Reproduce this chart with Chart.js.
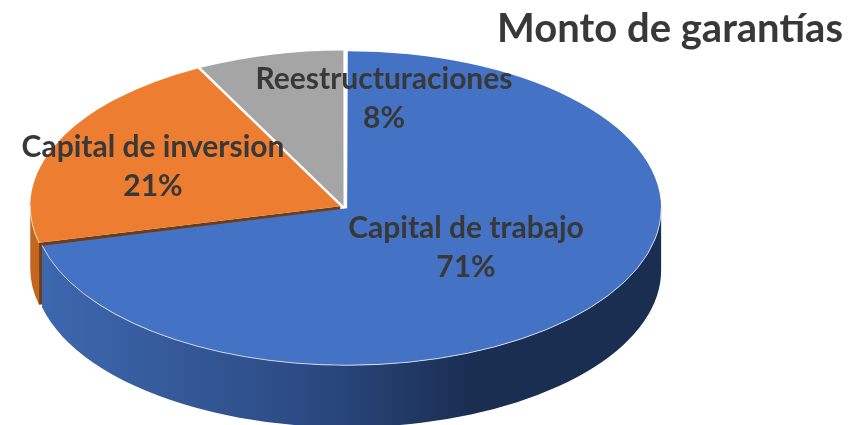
<!DOCTYPE html>
<html><head><meta charset="utf-8">
<style>html,body{margin:0;padding:0;background:#fff}#c{display:block}</style>
<script src="https://cdn.jsdelivr.net/npm/chart.js@4"></script>
</head><body><canvas id="c" width="851" height="425"></canvas>
<script>
const categories = ["Capital de trabajo", "Capital de inversion", "Reestructuraciones"];
const values = [71.2, 21.2, 7.6];
const percentLabels = ["71%", "21%", "8%"];
const colors = ["#4472C4", "#ED7D31", "#A5A5A5"];
const titleText = "Monto de garantías";

// Projection of the flat pie onto the tilted ellipse
const CX = 344, CY = 207, SX = 2, DEPTH = 62;
const labelAnchors = [[466, 228], [153, 147], [384, 79]];
const TXT = "#383838", FONT = "Lato, Carlito, 'Open Sans', sans-serif";

// same displacement and radius growth that the arc element applies for its offset
function geom(arc) {
  const o = (arc.options.offset || 0) / 4;
  const fix = 1 - Math.sin(Math.min(Math.PI, arc.circumference));
  const m = (arc.startAngle + arc.endAngle) / 2;
  return { x: arc.x + Math.cos(m) * o, y: arc.y + Math.sin(m) * o, r: arc.outerRadius + o * fix };
}
function wallPath(ctx, x, y, r, a0, a1) {
  ctx.beginPath();
  ctx.arc(x, y, r, a0, a1);
  ctx.arc(x, y + DEPTH, r, a1, a0, true);
  ctx.closePath();
}
const pie3d = {
  id: "pie3d",
  beforeDatasetsDraw(chart) {
    const ctx = chart.ctx, arcs = chart.getDatasetMeta(0).data;
    const ax = arcs[0].x, ay = arcs[0].y;
    ctx.save();
    ctx.translate(CX, CY); ctx.scale(SX, 1); ctx.translate(-ax, -ay);
    // inversion: outer wall + cut face
    const o = arcs[1], og = geom(o);
    ctx.fillStyle = "#C5661F";
    wallPath(ctx, og.x, og.y, og.r, o.startAngle, Math.PI);
    ctx.fill();
    const ex = og.x + Math.cos(o.startAngle) * og.r, ey = og.y + Math.sin(o.startAngle) * og.r;
    ctx.fillStyle = "#6B3D18";
    ctx.beginPath();
    ctx.moveTo(og.x, og.y); ctx.lineTo(ex, ey); ctx.lineTo(ex, ey + DEPTH); ctx.lineTo(og.x, og.y + DEPTH);
    ctx.closePath(); ctx.fill();
    // trabajo: front wall with horizontal gradient
    const b = arcs[0], bg = geom(b);
    const g = ctx.createLinearGradient(bg.x - bg.r, 0, bg.x + bg.r, 0);
    g.addColorStop(0, "#3E69B0");
    g.addColorStop(0.43, "#2C4B84");
    g.addColorStop(0.7, "#1A2E52");
    g.addColorStop(1, "#1A2E52");
    ctx.fillStyle = g;
    wallPath(ctx, bg.x, bg.y, bg.r, 0, b.endAngle);
    ctx.fill();
  },
  afterDatasetsDraw(chart) {
    const ctx = chart.ctx, arcs = chart.getDatasetMeta(0).data;
    // light rim along the front edge
    const b = arcs[0], bg = geom(b);
    const saved = ctx.getTransform();
    ctx.beginPath();
    ctx.arc(bg.x, bg.y, bg.r, 0, b.endAngle);
    ctx.setTransform(1, 0, 0, 1, 0, 0);
    ctx.strokeStyle = "rgba(225,230,240,.85)"; ctx.lineWidth = 1; ctx.stroke();
    ctx.setTransform(saved);
    const o = arcs[1], og = geom(o);
    ctx.beginPath();
    ctx.arc(og.x, og.y, og.r, o.startAngle, Math.PI);
    ctx.setTransform(1, 0, 0, 1, 0, 0);
    ctx.strokeStyle = "rgba(250,225,205,.9)"; ctx.stroke();
    ctx.restore();
    // data labels
    ctx.save();
    ctx.fillStyle = TXT;
    ctx.font = "bold 30px " + FONT;
    ctx.textAlign = "center"; ctx.textBaseline = "middle";
    categories.forEach((name, i) => {
      const [x, y] = labelAnchors[i];
      ctx.fillText(name, x, y);
      ctx.fillText(percentLabels[i], x, y + 39);
    });
    ctx.restore();
  }
};
new Chart(document.getElementById("c"), {
  type: "pie",
  data: { labels: categories, datasets: [{
    data: values, backgroundColor: colors, borderWidth: 0,
    offset: [8, 8, 4], hoverOffset: 0, clip: false
  }]},
  options: {
    responsive: false, animation: false, radius: 155,
    events: [],
    layout: { padding: { right: 8 } },
    plugins: {
      legend: { display: false }, tooltip: { enabled: false },
      title: { display: true, text: titleText, align: "end", color: TXT,
        font: { family: FONT, size: 40, weight: "bold" }, padding: { top: 5, bottom: 0 } }
    }
  },
  plugins: [pie3d]
});
</script></body></html>
